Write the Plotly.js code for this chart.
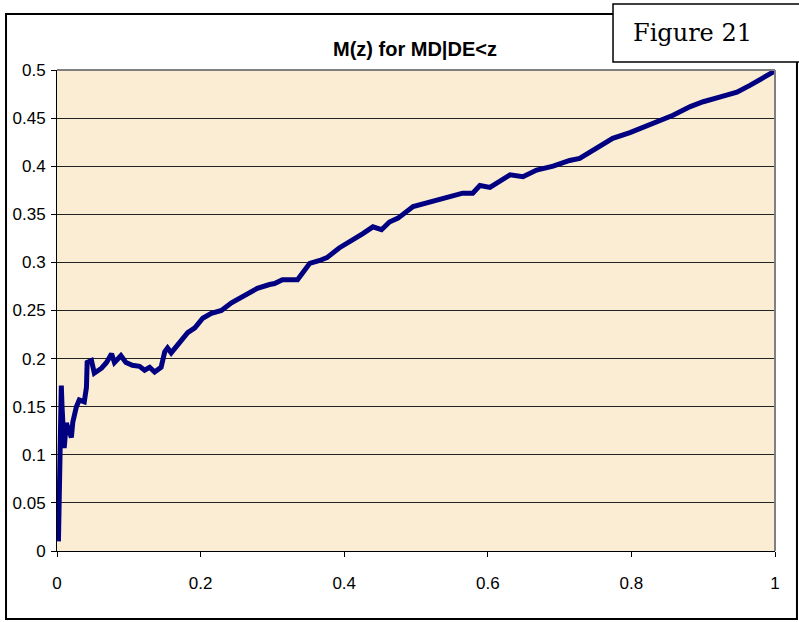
<!DOCTYPE html>
<html>
<head>
<meta charset="utf-8">
<script src="https://cdn.plot.ly/plotly-3.0.1.min.js"></script>
<style>html,body{margin:0;padding:0;background:#fff;}#chart{width:799px;height:622px;}</style>
</head>
<body>
<div id="chart"></div>
<script>
// z values (x) and M(z) values (y)
const zValues = [0.002,0.003,0.004,0.005,0.006,0.007,0.008,0.010,0.013,0.016,0.020,0.022,0.027,0.031,0.038,0.041,0.042,0.048,0.052,0.062,0.069,0.076,0.080,0.089,0.096,0.105,0.115,0.122,0.129,0.136,0.145,0.150,0.154,0.159,0.166,0.175,0.182,0.192,0.203,0.215,0.229,0.243,0.254,0.268,0.279,0.296,0.303,0.314,0.335,0.342,0.352,0.366,0.376,0.393,0.412,0.426,0.440,0.452,0.463,0.475,0.496,0.515,0.533,0.551,0.565,0.579,0.589,0.603,0.631,0.649,0.668,0.691,0.714,0.728,0.752,0.774,0.798,0.816,0.836,0.858,0.882,0.900,0.924,0.947,0.965,0.983,0.997,1.000];
const mValues = [0.010,0.060,0.120,0.165,0.172,0.150,0.120,0.107,0.133,0.125,0.118,0.134,0.150,0.157,0.155,0.170,0.196,0.198,0.185,0.190,0.196,0.205,0.196,0.203,0.196,0.193,0.192,0.188,0.191,0.186,0.191,0.207,0.211,0.206,0.212,0.221,0.227,0.232,0.242,0.247,0.250,0.258,0.263,0.268,0.273,0.277,0.278,0.282,0.282,0.289,0.299,0.302,0.305,0.315,0.323,0.330,0.337,0.334,0.342,0.346,0.358,0.362,0.365,0.369,0.372,0.372,0.380,0.378,0.391,0.389,0.396,0.400,0.406,0.408,0.419,0.429,0.435,0.440,0.446,0.453,0.462,0.467,0.472,0.477,0.484,0.492,0.497,0.499];
const xTickVals = [0,0.2,0.4,0.6,0.8,1];
const xTickText = ['0','0.2','0.4','0.6','0.8','1'];
const yTickVals = [0,0.05,0.1,0.15,0.2,0.25,0.3,0.35,0.4,0.45,0.5];
const yTickText = ['0','0.05','0.1','0.15','0.2','0.25','0.3','0.35','0.4','0.45','0.5'];
const chartTitle = 'M(z) for MD|DE&lt;z';
const figureLabel = 'Figure 21';

const trace = {
  x: zValues, y: mValues, type: 'scatter', mode: 'lines',
  line: {color: '#000080', width: 5}, hoverinfo: 'skip'
};

const layout = {
  width: 799, height: 622,
  margin: {l: 57, r: 24, t: 70, b: 71},
  paper_bgcolor: '#ffffff',
  plot_bgcolor: '#faedd4',
  showlegend: false,
  font: {family: 'Arial, "Liberation Sans", sans-serif', color: '#000', size: 17},
  xaxis: {
    range: [0, 1], tickvals: xTickVals, ticktext: xTickText,
    showgrid: false, zeroline: false, showline: true, linecolor: '#000', linewidth: 1,
    ticks: 'outside', ticklen: 5, tickcolor: '#000', tickwidth: 1,
    ticklabelstandoff: 12, tickfont: {size: 17}
  },
  yaxis: {
    range: [0, 0.5], tickvals: yTickVals, ticktext: yTickText,
    showgrid: true, gridcolor: '#222', gridwidth: 1, zeroline: false,
    showline: true, linecolor: '#000', linewidth: 1,
    ticks: 'outside', ticklen: 5, tickcolor: '#000', tickwidth: 1,
    ticklabelstandoff: 2, tickfont: {size: 17}
  },
  shapes: [
    {type: 'rect', xref: 'paper', yref: 'paper', x0: -0.0710, x1: 1.0306, y0: -0.1414, y1: 1.1164,
     line: {color: '#000', width: 2}, fillcolor: 'rgba(0,0,0,0)', layer: 'below'},
    {type: 'line', xref: 'paper', yref: 'paper', x0: 0, x1: 1, y0: 1, y1: 1, line: {color: '#808080', width: 2}},
    {type: 'line', xref: 'paper', yref: 'paper', x0: 1, x1: 1, y0: 0, y1: 1, line: {color: '#808080', width: 2}},
    {type: 'rect', xref: 'paper', yref: 'paper', x0: 0.7744, x1: 1.036, y0: 1.0166, y1: 1.1372,
     line: {color: '#000', width: 1.5}, fillcolor: '#ffffff'}
  ],
  annotations: [
    {text: '<b>' + chartTitle + '</b>', xref: 'paper', yref: 'paper', x: 0.499, y: 1.0437, xanchor: 'center', yanchor: 'middle',
     showarrow: false, font: {family: 'Arial, "Liberation Sans", sans-serif', size: 20, color: '#000'}},
    {text: figureLabel, xref: 'paper', yref: 'paper', x: 0.885, y: 1.0769, xanchor: 'center', yanchor: 'middle',
     showarrow: false, font: {family: '"DejaVu Serif", "Liberation Serif", serif', size: 24, color: '#000'}}
  ]
};

Plotly.newPlot('chart', [trace], layout, {displayModeBar: false, staticPlot: true});
</script>
</body>
</html>
